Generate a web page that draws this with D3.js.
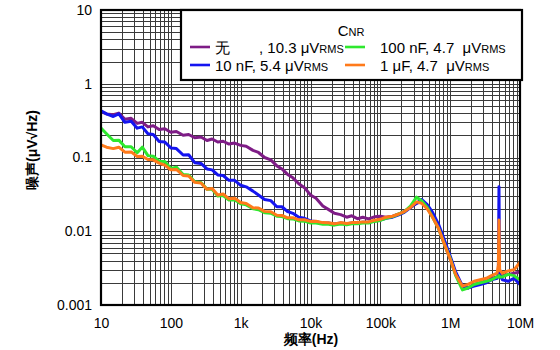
<!DOCTYPE html>
<html>
<head>
<meta charset="utf-8">
<script src="https://cdn.jsdelivr.net/npm/d3@7"></script>
<style>
  body { margin: 0; background: #fff; }
  text { font-family: "Liberation Sans", Arial, sans-serif; }
</style>
</head>
<body>
<svg id="chart"></svg>
<script>
const width = 560;
const height = 350;
const margin = { top: 10, right: 40, bottom: 45, left: 101 };

// frequencies (Hz) shared by all traces
const freq = [
  10, 12, 15, 18, 22, 27, 33, 39, 47, 56, 68, 82,
  100, 120, 150, 180, 220, 270, 330, 390, 470, 560, 680, 820,
  1e3, 1.2e3, 1.5e3, 1.8e3, 2.2e3, 2.7e3, 3.3e3, 3.9e3, 4.7e3, 5.6e3, 6.8e3, 8.2e3,
  1e4, 1.2e4, 1.5e4, 1.8e4, 2.2e4, 2.7e4, 3.3e4, 3.9e4, 4.7e4, 5.6e4, 6.8e4, 8.2e4,
  1e5, 1.2e5, 1.5e5, 1.8e5, 2.2e5, 2.7e5, 3.3e5, 3.9e5, 4.7e5, 5.6e5, 6.8e5, 8.2e5,
  1e6, 1.2e6, 1.5e6, 1.8e6, 2.2e6, 2.7e6, 3.3e6, 3.9e6, 4.7e6, 4.9e6, 5e6, 5.1e6, 5.6e6, 6.8e6, 8.2e6,
  1e7
];

// noise density, uV/sqrt(Hz)
const noneCnr = [
  0.42, 0.39, 0.38, 0.40, 0.33, 0.34, 0.29, 0.30, 0.26, 0.27, 0.24, 0.245,
  0.22, 0.225, 0.20, 0.205, 0.185, 0.19, 0.17, 0.178, 0.162, 0.166, 0.152, 0.157,
  0.146, 0.142, 0.125, 0.117, 0.10, 0.093, 0.077, 0.07, 0.059, 0.053, 0.044, 0.039,
  0.031, 0.028, 0.022, 0.0198, 0.0175, 0.0168, 0.0155, 0.0162, 0.0148, 0.0155, 0.0147, 0.0157,
  0.016, 0.0155, 0.016, 0.017, 0.0185, 0.021, 0.024, 0.025, 0.021, 0.016, 0.011, 0.0068,
  0.0042, 0.0026, 0.0018, 0.0017, 0.0019, 0.002, 0.0021, 0.0023, 0.0024, 0.0025, 0.0026, 0.0025, 0.0025, 0.0026, 0.0027,
  0.0028
];
const cnr10n = [
  0.43, 0.39, 0.36, 0.39, 0.30, 0.31, 0.25, 0.26, 0.21, 0.205, 0.165, 0.162,
  0.135, 0.132, 0.108, 0.109, 0.085, 0.083, 0.07, 0.068, 0.058, 0.057, 0.049, 0.049,
  0.042, 0.04, 0.035, 0.031, 0.027, 0.026, 0.0215, 0.0215, 0.0185, 0.0175, 0.0155, 0.015,
  0.0138, 0.0136, 0.0128, 0.0129, 0.0125, 0.0129, 0.0126, 0.0129, 0.0129, 0.0132, 0.0132, 0.0138,
  0.0142, 0.015, 0.0155, 0.0165, 0.018, 0.021, 0.024, 0.027, 0.023, 0.018, 0.0125, 0.0078,
  0.0046, 0.0028, 0.0018, 0.0017, 0.0018, 0.0019, 0.002, 0.0022, 0.0023, 0.0025, 0.040, 0.0026, 0.0022, 0.0021, 0.0023,
  0.0019
];
const cnr100n = [
  0.25, 0.21, 0.17, 0.172, 0.14, 0.14, 0.116, 0.138, 0.106, 0.104, 0.089, 0.088,
  0.071, 0.074, 0.059, 0.058, 0.047, 0.046, 0.037, 0.037, 0.030, 0.0305, 0.0265, 0.0268,
  0.0235, 0.0228, 0.0202, 0.0196, 0.0178, 0.0176, 0.016, 0.0158, 0.0148, 0.0147, 0.0138, 0.0137,
  0.0129, 0.0129, 0.0124, 0.0124, 0.0121, 0.0125, 0.0122, 0.0126, 0.0126, 0.0129, 0.0129, 0.0136,
  0.014, 0.015, 0.0158, 0.017, 0.0185, 0.022, 0.029, 0.026, 0.021, 0.0155, 0.011, 0.0068,
  0.0043, 0.0025, 0.0016, 0.0017, 0.0019, 0.002, 0.0021, 0.0022, 0.0024, 0.0024, 0.0025, 0.0024, 0.0024, 0.0026, 0.0025,
  0.0022
];
const cnr1u = [
  0.148, 0.138, 0.132, 0.138, 0.118, 0.119, 0.103, 0.104, 0.094, 0.093, 0.084, 0.079,
  0.068, 0.069, 0.057, 0.056, 0.046, 0.045, 0.037, 0.038, 0.031, 0.032, 0.0275, 0.028,
  0.0245, 0.0238, 0.0208, 0.0207, 0.0186, 0.0184, 0.0165, 0.0164, 0.0152, 0.0153, 0.0143, 0.0143,
  0.0136, 0.0137, 0.0131, 0.013, 0.0126, 0.0131, 0.0127, 0.0131, 0.0131, 0.0134, 0.0134, 0.0141,
  0.0145, 0.0155, 0.016, 0.017, 0.0185, 0.021, 0.025, 0.024, 0.02, 0.0155, 0.011, 0.0068,
  0.0042, 0.0026, 0.0018, 0.0019, 0.0021, 0.0022, 0.0023, 0.0025, 0.0027, 0.0035, 0.0142, 0.003, 0.0027, 0.0029, 0.003,
  0.0038
];

const seriesNames = ["none", "10n", "100n", "1u"];
const seriesColors = ["#7e1c86", "#1414f0", "#2ee82e", "#ff7a1a"];

const xTickValues = [10, 100, 1e3, 1e4, 1e5, 1e6, 1e7];
const xTickLabels = ["10", "100", "1k", "10k", "100k", "1M", "10M"];
const yTickValues = [0.001, 0.01, 0.1, 1, 10];
const yTickLabels = ["0.001", "0.01", "0.1", "1", "10"];

const series = [noneCnr, cnr10n, cnr100n, cnr1u].map((vals, i) => ({
  name: seriesNames[i],
  color: seriesColors[i],
  points: freq.map((f, j) => ({ f, v: vals[j] }))
}));

const x_scale = d3.scaleLog().domain([10, 1e7]).range([margin.left, width - margin.right]);
const y_scale = d3.scaleLog().domain([0.001, 10]).range([height - margin.bottom, margin.top]);

const svg = d3.select("#chart").attr("width", width).attr("height", height);

// grid: 1..9 per decade
const xGrid = [];
for (let e = 1; e < 7; e++) for (let m = 1; m < 10; m++) xGrid.push(m * 10 ** e);
const yGrid = [];
for (let e = -3; e < 1; e++) for (let m = 1; m < 10; m++) yGrid.push(m * 10 ** e);

const grid = svg.append("g").attr("stroke", "#3a3a3a").attr("stroke-width", 1);
grid.selectAll("line.v")
  .data(xGrid)
  .join("line")
  .attr("class", "v")
  .attr("x1", (d) => Math.round(x_scale(d)) + 0.5)
  .attr("x2", (d) => Math.round(x_scale(d)) + 0.5)
  .attr("y1", margin.top)
  .attr("y2", height - margin.bottom);
grid.selectAll("line.h")
  .data(yGrid)
  .join("line")
  .attr("class", "h")
  .attr("y1", (d) => Math.round(y_scale(d)) + 0.5)
  .attr("y2", (d) => Math.round(y_scale(d)) + 0.5)
  .attr("x1", margin.left)
  .attr("x2", width - margin.right);

svg.append("clipPath")
  .attr("id", "plot-clip")
  .append("rect")
  .attr("x", margin.left)
  .attr("y", margin.top)
  .attr("width", width - margin.left - margin.right)
  .attr("height", height - margin.top - margin.bottom);

const line = d3.line()
  .x((d) => x_scale(d.f))
  .y((d) => y_scale(d.v));

svg.append("g")
  .attr("clip-path", "url(#plot-clip)")
  .selectAll("path")
  .data(series)
  .join("path")
  .attr("fill", "none")
  .attr("stroke", (d) => d.color)
  .attr("stroke-width", 3)
  .attr("stroke-linejoin", "round")
  .attr("d", (d) => line(d.points));

// frame
svg.append("rect")
  .attr("x", margin.left)
  .attr("y", margin.top)
  .attr("width", width - margin.left - margin.right)
  .attr("height", height - margin.top - margin.bottom)
  .attr("fill", "none")
  .attr("stroke", "#000")
  .attr("stroke-width", 2.2);

const xAxis = d3.axisBottom(x_scale)
  .tickValues(xTickValues)
  .tickFormat((d, i) => xTickLabels[i])
  .tickSize(0)
  .tickPadding(13);
const yAxis = d3.axisLeft(y_scale)
  .tickValues(yTickValues)
  .tickFormat((d, i) => yTickLabels[i])
  .tickSize(0)
  .tickPadding(9);

const gx = svg.append("g")
  .attr("transform", `translate(0,${height - margin.bottom})`)
  .call(xAxis);
const gy = svg.append("g")
  .attr("transform", `translate(${margin.left},0)`)
  .call(yAxis);
[gx, gy].forEach((g) => {
  g.select(".domain").remove();
  g.selectAll("text")
    .attr("font-family", "'Liberation Sans', Arial, sans-serif")
    .attr("font-size", 14)
    .attr("fill", "#000");
});

// axis titles
const titleFont = "'Liberation Serif', 'Times New Roman', 'Noto Sans CJK SC', serif";
svg.append("text")
  .attr("x", 311)
  .attr("y", 344)
  .attr("text-anchor", "middle")
  .attr("font-family", titleFont)
  .attr("font-weight", "bold")
  .attr("font-size", 14)
  .text("频率(Hz)");
svg.append("text")
  .attr("transform", "translate(37,150) rotate(-90)")
  .attr("text-anchor", "middle")
  .attr("font-family", titleFont)
  .attr("font-weight", "bold")
  .attr("font-size", 14)
  .text("噪声(μV√Hz)");

// legend
const legend = svg.append("g");
legend.append("rect")
  .attr("x", 181)
  .attr("y", 10)
  .attr("width", 341)
  .attr("height", 70)
  .attr("fill", "#fff")
  .attr("stroke", "#000")
  .attr("stroke-width", 2.2);

const lt = legend.append("text")
  .attr("x", 351)
  .attr("y", 36)
  .attr("text-anchor", "middle")
  .attr("font-size", 15);
lt.append("tspan").text("C");
lt.append("tspan").attr("font-size", 11).text("NR");

const legendItems = [
  { i: 0, x: 190, y: 47, label: [["无", 215], [", 10.3 μV", 259]] },
  { i: 2, x: 345, y: 47, label: [["100 nF, 4.7  μV", 380]] },
  { i: 1, x: 190, y: 65, label: [["10 nF, 5.4 μV", 215]] },
  { i: 3, x: 345, y: 65, label: [["1 μF, 4.7  μV", 380]] }
];
legendItems.forEach((item) => {
  legend.append("line")
    .attr("x1", item.x)
    .attr("x2", item.x + 20)
    .attr("y1", item.y)
    .attr("y2", item.y)
    .attr("stroke", seriesColors[item.i])
    .attr("stroke-width", 2.6);
  item.label.forEach(([s, tx], k) => {
    const t = legend.append("text")
      .attr("x", tx)
      .attr("y", item.y + 6)
      .attr("font-size", 15)
      .attr("xml:space", "preserve")
      .style("white-space", "pre");
    t.append("tspan").text(s);
    if (k === item.label.length - 1) {
      t.append("tspan").attr("font-size", 11).text("RMS");
    }
  });
});
</script>
</body>
</html>
